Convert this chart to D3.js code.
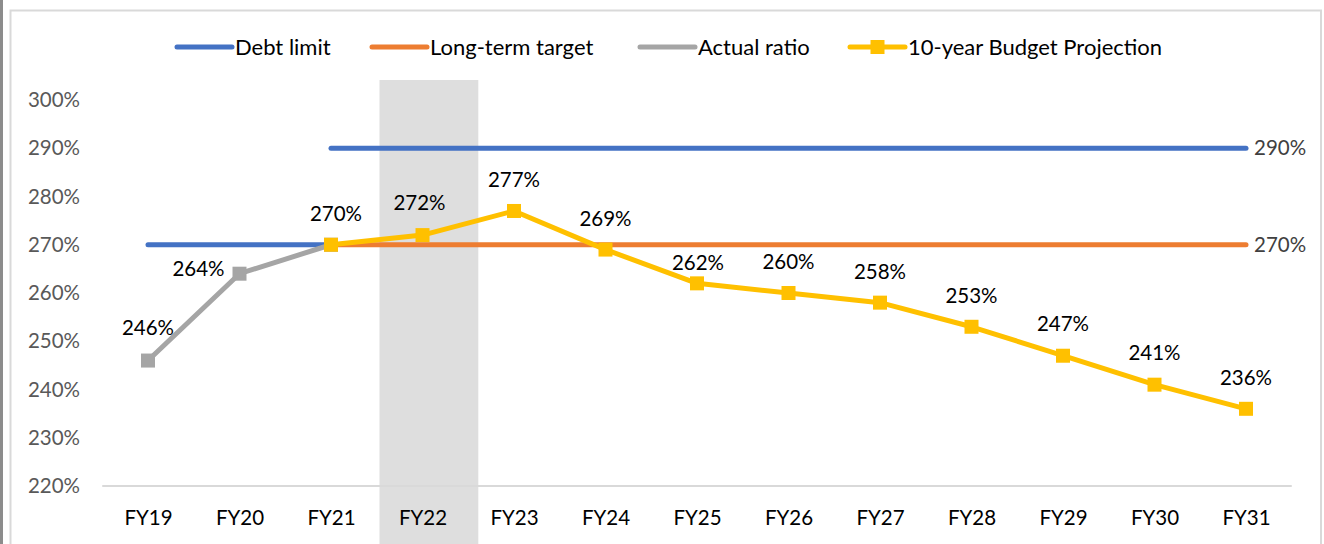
<!DOCTYPE html>
<html>
<head>
<meta charset="utf-8">
<script src="https://cdn.jsdelivr.net/npm/d3@7"></script>
<style>
  html, body { margin: 0; padding: 0; background: #fff; }
  svg { display: block; font-family: Lato, "Noto Sans", sans-serif; }
</style>
</head>
<body>
<svg id="chart" width="1324" height="544"></svg>
<script>
// ---- data ----
const categories = ["FY19","FY20","FY21","FY22","FY23","FY24","FY25","FY26","FY27","FY28","FY29","FY30","FY31"];
const debtLimitEarly = [270, 270, 270, null, null, null, null, null, null, null, null, null, null];
const debtLimit      = [null, null, 290, 290, 290, 290, 290, 290, 290, 290, 290, 290, 290];
const longTermTarget = [null, null, 270, 270, 270, 270, 270, 270, 270, 270, 270, 270, 270];
const actualRatio    = [246, 264, 270, null, null, null, null, null, null, null, null, null, null];
const projection     = [null, null, 270, 272, 277, 269, 262, 260, 258, 253, 247, 241, 236];
const yTicks = [220, 230, 240, 250, 260, 270, 280, 290, 300];
const highlightCategory = "FY22";
const legendNames = ["Debt limit", "Long-term target", "Actual ratio", "10-year Budget Projection"];

// label layout (offsets of data labels from their points)
const actualLabelOffset = [[0, -33], [-41, -5], null];
const projLabelOffset = [null, null, [5, -31], [-3, -32], [0, -31], [0, -31], [1, -21], [0, -31], [0, -31], [0, -31], [0, -32], [0, -32], [0, -31]];

const colors = { blue: "#4472C4", orange: "#ED7D31", gray: "#A5A5A5", yellow: "#FFC000" };
const fontStack = "Lato, 'Noto Sans', sans-serif";

const svg = d3.select("#chart");

// frame
svg.append("rect").attr("x", 0).attr("y", 0).attr("width", 3).attr("height", 544).attr("fill", "#8C8C8C");
svg.append("path").attr("d", "M10.5,544 V10.5 H1321 V544").attr("fill", "none").attr("stroke", "#D9D9D9").attr("stroke-width", 2);

const x = d3.scalePoint().domain(categories).range([148, 1246]);
const step = x.step();
const y = d3.scaleLinear().domain([220, 300]).range([486, 100]);

// highlight band
svg.append("rect")
  .attr("x", x(highlightCategory) - step * 0.47)
  .attr("y", 80)
  .attr("width", step * 1.08)
  .attr("height", 544 - 80)
  .attr("fill", "#DEDEDE");

// y axis labels
const yAxis = d3.axisLeft(y).tickValues(yTicks).tickFormat(d => d + "%").tickSize(0).tickPadding(0);
const gy = svg.append("g").attr("transform", "translate(80,0)").call(yAxis);
gy.select(".domain").remove();
gy.selectAll("text").attr("fill", "#595959").style("font-size", "20.5px").style("font-family", fontStack);

// x axis
const xAxis = d3.axisBottom(x).tickSize(0).tickPadding(0);
const gx = svg.append("g").attr("transform", "translate(0,486)").call(xAxis);
gx.select(".domain").remove();
gx.selectAll("text").attr("dy", "1.9em").attr("fill", "#000").style("font-size", "20.5px").style("font-family", fontStack);
svg.append("line")
  .attr("x1", x(categories[0]) - step / 2).attr("x2", x(categories[categories.length - 1]) + step / 2)
  .attr("y1", y(220)).attr("y2", y(220))
  .attr("stroke", "#D9D9D9").attr("stroke-width", 2);

const line = d3.line()
  .defined(d => d.v != null)
  .x(d => x(d.c)).y(d => y(d.v));
const toPts = arr => arr.map((v, i) => ({ c: categories[i], v }));

function drawLine(arr, color) {
  svg.append("path").datum(toPts(arr))
    .attr("d", line).attr("fill", "none")
    .attr("stroke", color).attr("stroke-width", 5)
    .attr("stroke-linecap", "round").attr("stroke-linejoin", "round");
}

drawLine(debtLimitEarly, colors.blue);
drawLine(debtLimit, colors.blue);
drawLine(longTermTarget, colors.orange);
drawLine(actualRatio, colors.gray);

// end labels for debt limit and target
[debtLimit, longTermTarget].forEach(arr => {
  const i = arr.length - 1;
  svg.append("text")
    .attr("x", x(categories[i]) + 8).attr("y", y(arr[i]))
    .attr("dy", "0.35em").attr("fill", "#404040")
    .style("font-size", "20.5px")
    .text(arr[i] + "%");
});

// actual markers
const ms = 14;
svg.append("g").selectAll("rect")
  .data(toPts(actualRatio).filter(d => d.v != null))
  .join("rect")
  .attr("x", d => x(d.c) - ms / 2).attr("y", d => y(d.v) - ms / 2)
  .attr("width", ms).attr("height", ms).attr("fill", colors.gray);

drawLine(projection, colors.yellow);
svg.append("g").selectAll("rect")
  .data(toPts(projection).filter(d => d.v != null))
  .join("rect")
  .attr("x", d => x(d.c) - ms / 2).attr("y", d => y(d.v) - ms / 2)
  .attr("width", ms).attr("height", ms).attr("fill", colors.yellow);

// data labels
function labels(arr, offs) {
  arr.forEach((v, i) => {
    if (v == null || !offs[i]) return;
    svg.append("text")
      .attr("x", x(categories[i]) + offs[i][0])
      .attr("y", y(v) + offs[i][1])
      .attr("dy", "0.35em")
      .attr("text-anchor", "middle")
      .attr("fill", "#000")
      .style("font-size", "20.5px")
      .text(v + "%");
  });
}
labels(actualRatio, actualLabelOffset);
labels(projection, projLabelOffset);

// legend
const legendX = [177, 372, 640, 850];
const legendColors = [colors.blue, colors.orange, colors.gray, colors.yellow];
const lg = svg.append("g");
legendNames.forEach((name, i) => {
  const lx = legendX[i];
  lg.append("line").attr("x1", lx).attr("x2", lx + 55).attr("y1", 47).attr("y2", 47)
    .attr("stroke", legendColors[i]).attr("stroke-width", 5).attr("stroke-linecap", "round");
  if (i === 3) {
    lg.append("rect").attr("x", lx + 27.5 - 7).attr("y", 47 - 7).attr("width", 14).attr("height", 14).attr("fill", colors.yellow);
  }
  lg.append("text").attr("x", lx + 58).attr("y", 47).attr("dy", "0.35em")
    .attr("fill", "#000").style("font-size", "22px").text(name);
});
</script>
</body>
</html>
